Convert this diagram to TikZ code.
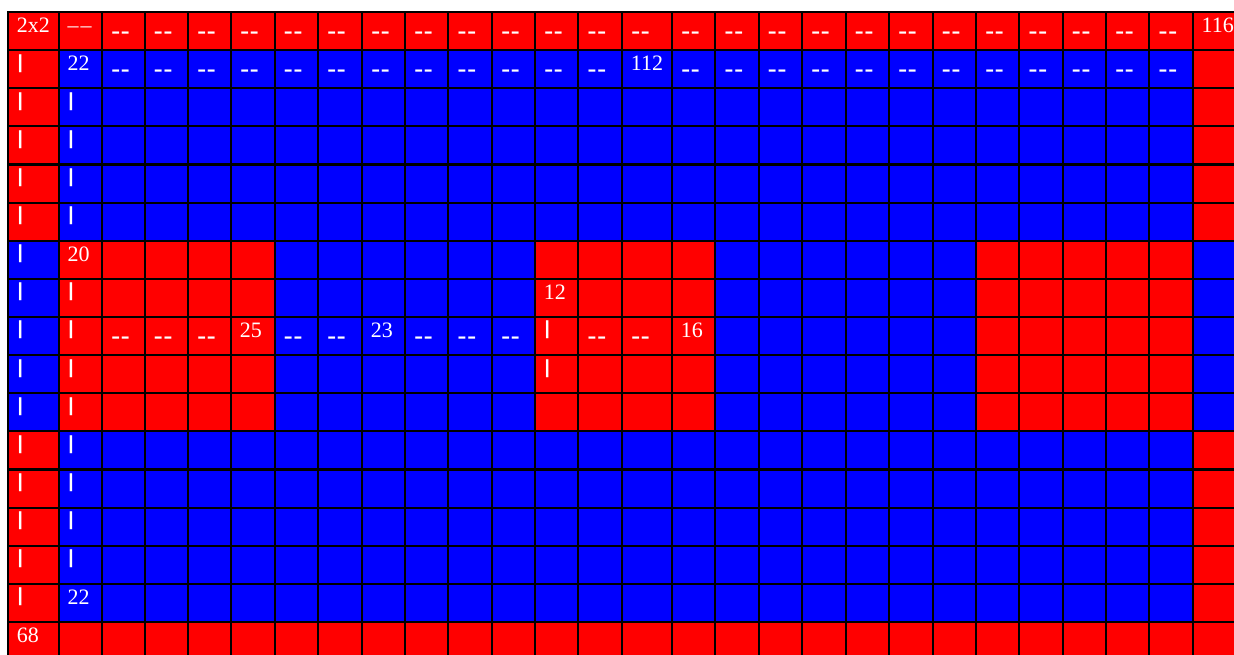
\documentclass[tikz,border=0pt]{standalone}
\usepackage{fontspec}
\setmainfont{Liberation Serif}
\newfontfamily\dashfont{Liberation Sans}
\usepackage{xcolor}
\definecolor{CellRed}{RGB}{255,0,0}
\definecolor{CellBlue}{RGB}{0,0,255}
\newcommand{\dd}{-\kern.4pt-}

\begin{document}
\begin{tikzpicture}[x=1pt, y=-1pt, every node/.style={inner sep=0pt, text=white}]
  \tikzstyle{num}=[anchor=base west, xshift=8.7pt, yshift=-20.5pt, font=\fontsize{22}{24}\selectfont]
  \tikzstyle{dashtext}=[anchor=base west, xshift=8.8pt, yshift=-28.7pt, font=\dashfont\fontsize{28}{30}\selectfont]
  \tikzstyle{bartext}=[anchor=base west, xshift=9.5pt, yshift=-17.9pt, font=\dashfont\bfseries\fontsize{19}{21}\selectfont]
  \tikzstyle{gridline}=[line width=2.2pt, line cap=rect, black]
  \useasboundingbox (0,0) rectangle (1234,655);
  \clip (0,0) rectangle (1234,655);
  \foreach \x [count=\i from 0] in {8,58.7,102,144.7,188,231,274.7,318,362,405,448.3,492,535,578.3,622,672,715.3,758.7,802,845.7,889,932.7,976,1019.3,1062.7,1106,1149.3,1192.7,1240}
    \coordinate (c\i) at (\x,0);
  \foreach \i in {0,...,17}
    \coordinate (r\i) at (0,{12+38.125*\i});
  \fill[CellRed]  (c0|-r0)  rectangle (c28|-r17);
  \fill[CellBlue] (c1|-r1)  rectangle (c27|-r16);
  \fill[CellRed]  (c1|-r6)  rectangle (c6|-r11);
  \fill[CellRed]  (c12|-r6) rectangle (c16|-r11);
  \fill[CellRed]  (c22|-r6) rectangle (c27|-r11);
  \fill[CellBlue] (c0|-r6)  rectangle (c1|-r11);
  \fill[CellBlue] (c27|-r6) rectangle (c28|-r11);
  \foreach \i in {0,...,27} \draw[gridline] (c\i|-r0) -- (c\i|-r17);
  \foreach \i in {0,...,16} \draw[gridline] (c0|-r\i) -- (c28|-r\i);
  \node[num] (n2x2) at (c0|-r0) {2x2};
  \node[num] (d0-1) at (c1|-r0) {\textendash\kern2pt\textendash};
  \foreach \i in {2,...,26} \node[dashtext] (d0-\i) at (c\i|-r0) {\dd};
  \node[num] (n116) at (c27|-r0) {116};
  \node[num] (n22a) at (c1|-r1) {22};
  \foreach \i in {2,...,13,15,16,...,26} \node[dashtext] (d1-\i) at (c\i|-r1) {\dd};
  \node[num] (n112) at (c14|-r1) {112};
  \foreach \j in {1,...,15} \node[bartext] (b\j-0) at (c0|-r\j) {|};
  \foreach \j in {2,3,4,5,7,8,9,10,11,12,13,14} \node[bartext] (b\j-1) at (c1|-r\j) {|};
  \node[num] (n20) at (c1|-r6) {20};
  \node[num] (n12) at (c12|-r7) {12};
  \foreach \i in {2,3,4,6,7,9,10,11,13,14} \node[dashtext] (d8-\i) at (c\i|-r8) {\dd};
  \node[num] (n25) at (c5|-r8) {25};
  \node[num] (n23) at (c8|-r8) {23};
  \node[num] (n16) at (c15|-r8) {16};
  \node[bartext] (b8-12) at (c12|-r8) {|};
  \node[bartext] (b9-12) at (c12|-r9) {|};
  \node[num] (n22b) at (c1|-r15) {22};
  \node[num] (n68) at (c0|-r16) {68};
\end{tikzpicture}
\end{document}
